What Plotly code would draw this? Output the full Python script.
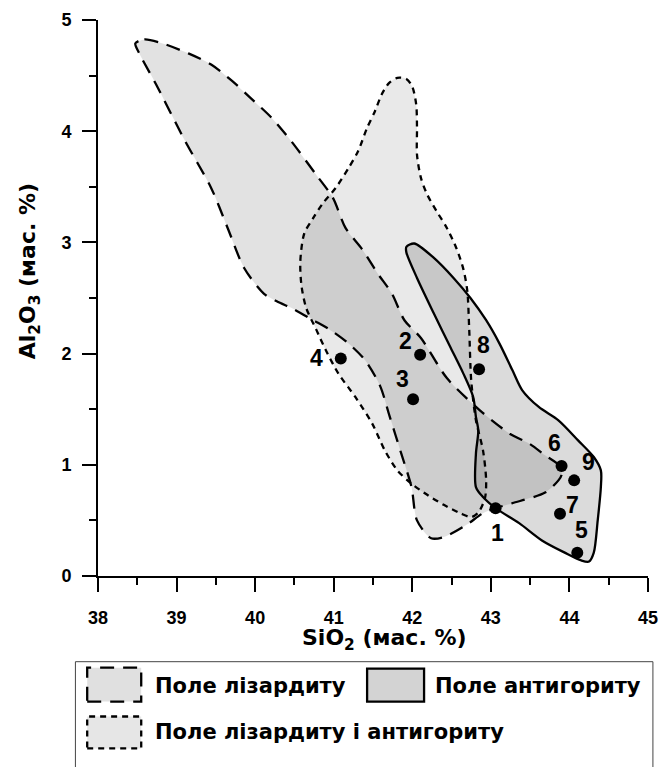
import plotly.graph_objects as go

# ---- data ----
# Lizardite field outline (SiO2, Al2O3)
liz_x = [38.475, 38.59, 38.775, 39.15, 39.44, 39.71, 39.94, 40.21, 40.46, 40.775, 40.99, 41.15, 41.36,
         41.56, 41.74, 41.90, 42.11, 42.44, 42.86, 43.24, 43.49, 43.69, 43.875, 43.90, 43.86, 43.69,
         43.275, 43.06, 42.90, 42.69, 42.40, 42.24, 42.06, 41.99, 41.86, 41.71, 41.59, 41.40, 41.19,
         40.94, 40.74, 40.49, 40.275, 40.11, 39.86, 39.65, 39.44, 39.11, 38.74, 38.525, 38.475]
liz_y = [4.79, 4.825, 4.80, 4.70, 4.60, 4.45, 4.30, 4.12, 3.91, 3.61, 3.40, 3.13, 2.94,
         2.72, 2.54, 2.30, 2.14, 1.78, 1.49, 1.28, 1.19, 1.085, 0.99, 0.91, 0.86, 0.75,
         0.655, 0.61, 0.565, 0.46, 0.35, 0.34, 0.50, 0.80, 1.10, 1.44, 1.71, 1.94, 2.09,
         2.22, 2.30, 2.40, 2.47, 2.54, 2.77, 3.13, 3.49, 3.91, 4.42, 4.70, 4.79]

# Lizardite + antigorite field outline
mix_x = [41.81, 41.925, 42.0, 42.05, 42.06, 42.06, 42.11, 42.19, 42.31, 42.44, 42.56, 42.65, 42.70,
         42.725, 42.75, 42.81, 42.90, 42.94, 42.925, 42.84, 42.75, 42.61, 42.40, 42.19, 41.99, 41.81,
         41.65, 41.49, 41.275, 41.06, 40.90, 40.775, 40.65, 40.59, 40.575, 40.625, 40.74, 40.86,
         41.025, 41.19, 41.31, 41.425, 41.525, 41.61, 41.70, 41.81]
mix_y = [4.48, 4.47, 4.40, 4.24, 4.03, 3.79, 3.58, 3.43, 3.28, 3.13, 2.95, 2.76, 2.565,
         2.21, 1.76, 1.40, 1.13, 0.86, 0.70, 0.57, 0.53, 0.565, 0.64, 0.73, 0.83, 0.95,
         1.13, 1.37, 1.61, 1.82, 2.03, 2.22, 2.41, 2.61, 2.83, 3.08, 3.22, 3.35,
         3.49, 3.67, 3.82, 4.03, 4.18, 4.33, 4.43, 4.48]

# Antigorite field outline
ant_x = [41.925, 42.025, 42.275, 42.525, 42.74, 42.94, 43.11, 43.275, 43.40, 43.61, 43.86, 44.11,
         44.31, 44.40, 44.40, 44.36, 44.31, 44.25, 44.15, 43.94, 43.65, 43.36, 43.06, 42.90, 42.81,
         42.81, 42.84, 42.81, 42.775, 42.65, 42.49, 42.275, 42.06, 41.925, 41.925]
ant_y = [2.96, 2.99, 2.86, 2.68, 2.50, 2.30, 2.09, 1.85, 1.67, 1.52, 1.40, 1.22,
         1.07, 0.95, 0.80, 0.50, 0.21, 0.13, 0.14, 0.21, 0.32, 0.475, 0.61, 0.71, 0.80,
         1.10, 1.31, 1.43, 1.61, 1.82, 2.05, 2.36, 2.68, 2.91, 2.96]

# Samples
pt_label = ["1", "2", "3", "4", "5", "6", "7", "8", "9"]
pt_x = [43.06, 42.10, 42.01, 41.09, 44.10, 43.90, 43.88, 42.85, 44.06]
pt_y = [0.61, 1.99, 1.59, 1.955, 0.21, 0.99, 0.56, 1.86, 0.86]

x_ticks = [38, 39, 40, 41, 42, 43, 44, 45]
y_ticks = [0, 1, 2, 3, 4, 5]
x_minor = [38.5, 39.5, 40.5, 41.5, 42.5, 43.5, 44.5]
y_minor = [0.5, 1.5, 2.5, 3.5, 4.5]

legend_names = ["Поле лізардиту", "Поле антигориту", "Поле лізардиту і антигориту"]

# ---- figure geometry (pixels) ----
W, H = 668, 767
L, R, T, B = 98, 10, 18, 191
PW, PH = W - L - R, H - T - B


def px(xp):
    return (xp - L) / PW


def py(yp):
    return (H - B - yp) / PH


FONT = "Liberation Sans, Arial, sans-serif"
WIDE = "DejaVu Sans, sans-serif"
LW = 2.3

fig = go.Figure()

fig.add_trace(go.Scatter(x=liz_x, y=liz_y, mode="lines", fill="toself",
                         fillcolor="rgba(0,0,0,0.115)",
                         line=dict(color="black", width=LW, dash="14px,9px", shape="spline", smoothing=0.8),
                         hoverinfo="skip", showlegend=False))
fig.add_trace(go.Scatter(x=mix_x, y=mix_y, mode="lines", fill="toself",
                         fillcolor="rgba(0,0,0,0.085)",
                         line=dict(color="black", width=LW, dash="6px,5px", shape="spline", smoothing=0.8),
                         hoverinfo="skip", showlegend=False))
fig.add_trace(go.Scatter(x=ant_x, y=ant_y, mode="lines", fill="toself",
                         fillcolor="rgba(0,0,0,0.14)",
                         line=dict(color="black", width=LW, shape="spline", smoothing=0.8),
                         hoverinfo="skip", showlegend=False))
fig.add_trace(go.Scatter(x=pt_x, y=pt_y, mode="markers",
                         marker=dict(color="black", size=12),
                         hoverinfo="skip", showlegend=False))
# invisible traces binding the helper axes (minor ticks / tick labels)
fig.add_trace(go.Scatter(x=[38], y=[0], xaxis="x2", yaxis="y2", mode="markers",
                         marker=dict(opacity=0), hoverinfo="skip", showlegend=False))
fig.add_trace(go.Scatter(x=[38], y=[0], xaxis="x3", yaxis="y3", mode="markers",
                         marker=dict(opacity=0), hoverinfo="skip", showlegend=False))

# label offsets (pixels) relative to each point
lab_dx = {"1": 2, "2": -15, "3": -11, "4": -24, "5": 4, "6": -7, "7": 12, "8": 4, "9": 14}
lab_dy = {"1": -25, "2": 14, "3": 20, "4": 1, "5": 23, "6": 23, "7": 9, "8": 24, "9": 18}
for lab, x, y in zip(pt_label, pt_x, pt_y):
    fig.add_annotation(x=x, y=y, text="<b>" + lab + "</b>", showarrow=False,
                       xanchor="center", yanchor="middle",
                       xshift=lab_dx[lab], yshift=lab_dy[lab],
                       font=dict(family=FONT, size=23, color="black"))

no_grid = dict(showgrid=False, zeroline=False)
tfont = dict(family=FONT, size=18, color="black", weight="bold")

fig.update_layout(
    # main axes: line + major ticks
    xaxis=dict(range=[38, 45], tickmode="array", tickvals=x_ticks, showticklabels=False,
               showline=True, linecolor="black", linewidth=LW,
               ticks="outside", ticklen=14, tickwidth=LW, tickcolor="black", **no_grid),
    yaxis=dict(range=[0, 5], tickmode="array", tickvals=y_ticks, showticklabels=False,
               showline=True, linecolor="black", linewidth=LW,
               ticks="outside", ticklen=14, tickwidth=LW, tickcolor="black", **no_grid),
    # minor ticks
    xaxis2=dict(range=[38, 45], overlaying="x", side="bottom", anchor="y2", tickmode="array",
                tickvals=x_minor, showticklabels=False, showline=False,
                ticks="outside", ticklen=8, tickwidth=LW, tickcolor="black", **no_grid),
    yaxis2=dict(range=[0, 5], overlaying="y", side="left", anchor="x2", tickmode="array",
                tickvals=y_minor, showticklabels=False, showline=False,
                ticks="outside", ticklen=8, tickwidth=LW, tickcolor="black", **no_grid),
    # tick labels (offset by transparent ticks)
    xaxis3=dict(range=[38, 45], overlaying="x", side="bottom", anchor="y3", tickmode="array",
                tickvals=x_ticks, ticktext=["%d" % v for v in x_ticks], showline=False,
                ticks="outside", ticklen=25, tickwidth=1, tickcolor="rgba(0,0,0,0)",
                tickfont=tfont, ticklabeloverflow="allow", **no_grid),
    yaxis3=dict(range=[0, 5], overlaying="y", side="left", anchor="x3", tickmode="array",
                tickvals=y_ticks, ticktext=["%d" % v for v in y_ticks], showline=False,
                ticks="outside", ticklen=22, tickwidth=1, tickcolor="rgba(0,0,0,0)",
                tickfont=tfont, ticklabeloverflow="allow", **no_grid),
)

# axis titles
fig.add_annotation(xref="paper", yref="paper", x=px(390), y=py(640), text="<b>SiO<sub>2</sub> (мас. %)</b>",
                   xanchor="center", yanchor="middle", showarrow=False,
                   font=dict(family=WIDE, size=22, color="black"))
fig.add_annotation(xref="paper", yref="paper", x=px(28), y=py(270), text="<b>Al<sub>2</sub>O<sub>3</sub> (мас. %)</b>",
                   textangle=-90, xanchor="center", yanchor="middle", showarrow=False,
                   font=dict(family=WIDE, size=22, color="black"))

# legend box
shapes = [
    dict(type="rect", xref="paper", yref="paper", x0=px(75), x1=px(663), y0=py(770), y1=py(662),
         line=dict(color="#444", width=1), fillcolor="white", layer="above"),
    dict(type="rect", xref="paper", yref="paper", x0=px(87), x1=px(142), y0=py(702), y1=py(668),
         line=dict(color="black", width=LW, dash="14px,9px"), fillcolor="#e0e0e0", layer="above"),
    dict(type="rect", xref="paper", yref="paper", x0=px(372), x1=px(430), y0=py(702), y1=py(669),
         line=dict(color="black", width=LW), fillcolor="#d3d3d3", layer="above"),
    dict(type="rect", xref="paper", yref="paper", x0=px(87), x1=px(142), y0=py(749), y1=py(717),
         line=dict(color="black", width=LW, dash="6px,5px"), fillcolor="#e6e6e6", layer="above"),
]
fig.update_layout(shapes=shapes)

for name, xp, yp in zip(legend_names, [154, 439, 154], [686, 686, 733]):
    fig.add_annotation(xref="paper", yref="paper", x=px(xp), y=py(yp), text="<b>" + name + "</b>",
                       xanchor="left", yanchor="middle", showarrow=False,
                       font=dict(family=WIDE, size=21, color="black"))

fig.update_layout(width=W, height=H, margin=dict(l=L, r=R, t=T, b=B),
                  paper_bgcolor="white", plot_bgcolor="white")

fig.write_html("out.html")
